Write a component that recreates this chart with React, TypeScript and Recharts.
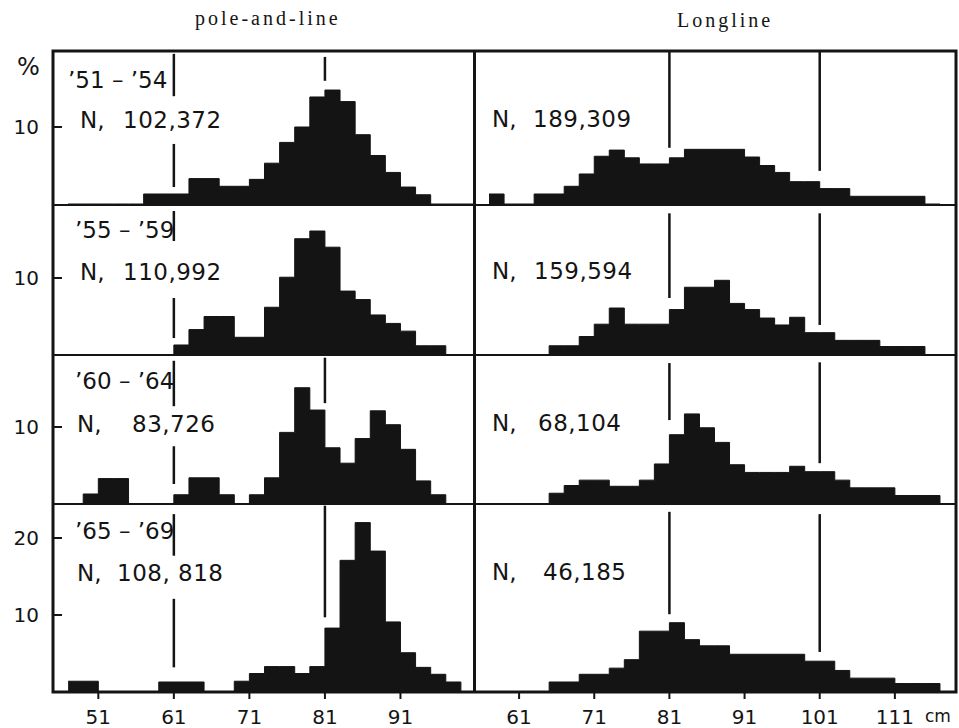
import { ComposedChart, Area, XAxis, YAxis, ReferenceLine } from 'recharts';

// bin lower edges (cm), 2 cm classes
const binsPole = [47, 49, 51, 53, 55, 57, 59, 61, 63, 65, 67, 69, 71, 73, 75, 77, 79, 81, 83, 85, 87, 89, 91, 93, 95, 97, 99];
const binsLong = [57, 59, 61, 63, 65, 67, 69, 71, 73, 75, 77, 79, 81, 83, 85, 87, 89, 91, 93, 95, 97, 99, 101, 103, 105, 107, 109, 111, 113, 115];

// pole-and-line, % per class
const pole5154 = [0, 0, 0, 0, 0, 1.3, 1.3, 1.3, 3.3, 3.3, 2.3, 2.3, 3.2, 5.3, 8.0, 10.0, 13.9, 14.8, 13.3, 9.0, 6.3, 4.1, 2.2, 1.2, 0, 0, 0];
const pole5559 = [0, 0, 0, 0, 0, 0, 0, 1.3, 3.3, 5.0, 5.0, 2.3, 2.3, 6.2, 10.1, 15.1, 16.1, 14.0, 8.3, 7.2, 5.2, 4.1, 3.1, 1.2, 1.2, 0, 0];
const pole6064 = [0, 1.3, 3.3, 3.3, 0, 0, 0, 1.2, 3.4, 3.4, 1.2, 0, 1.2, 3.4, 9.3, 15.1, 12.2, 7.3, 5.3, 8.5, 12.1, 10.3, 7.1, 3.0, 1.2, 0, 0];
const pole6569 = [1.4, 1.4, 0, 0, 0, 0, 1.3, 1.3, 1.3, 0, 0, 1.4, 2.4, 3.3, 3.3, 2.4, 3.3, 8.3, 17.1, 22.0, 18.3, 9.1, 5.1, 3.2, 2.3, 1.3, 0];

// longline, % per class
const long5154 = [1.3, 0, 0, 1.3, 1.3, 2.3, 3.9, 6.2, 7.0, 6.0, 5.2, 5.2, 6.0, 7.1, 7.1, 7.1, 7.1, 6.1, 5.0, 4.1, 2.9, 2.9, 2.0, 2.0, 1.0, 1.0, 1.0, 1.0, 1.0, 0];
const long5559 = [0, 0, 0, 0, 1.2, 1.2, 2.4, 4.0, 6.1, 4.0, 4.0, 4.0, 5.9, 8.8, 8.8, 9.7, 6.7, 5.9, 4.8, 3.9, 4.9, 2.9, 2.9, 1.9, 1.9, 1.9, 1.1, 1.1, 1.1, 0];
const long6064 = [0, 0, 0, 0, 1.4, 2.4, 3.1, 3.1, 2.3, 2.3, 3.1, 5.2, 9.0, 11.7, 9.9, 8.0, 5.1, 4.1, 4.1, 4.1, 4.9, 4.2, 4.2, 3.1, 2.1, 2.1, 2.1, 1.1, 1.1, 1.1];
const long6569 = [0, 0, 0, 0, 1.3, 1.3, 2.3, 2.3, 3.1, 4.2, 7.9, 7.9, 9.0, 6.8, 6.0, 6.0, 4.9, 4.9, 4.9, 4.9, 4.9, 4.0, 4.0, 2.8, 1.8, 1.8, 1.8, 1.1, 1.1, 1.1];

const periods = ['’51 – ’54', '’55 – ’59', '’60 – ’64', '’65 – ’69'];
const poleN = ['102,372', '110,992', '83,726', '108, 818'];
const longN = ['189,309', '159,594', '68,104', '46,185'];

const poleTicks = [51, 61, 71, 81, 91];
const longTicks = [61, 71, 81, 91, 101, 111];

// marker lines: x (cm), from % to %
const markPole = [
  [{ x: 61, a: 19.5, b: 14.0 }, { x: 61, a: 7.8, b: 2.2 }, { x: 81, a: 19.1, b: 16.0 }],
  [{ x: 61, a: 18.7, b: 14.8 }, { x: 61, a: 7.4, b: 2.2 }, { x: 81, a: 19.5, b: 17.9 }],
  [{ x: 61, a: 18.6, b: 12.7 }, { x: 61, a: 7.5, b: 2.6 }, { x: 81, a: 19.0, b: 13.1 }],
  [{ x: 61, a: 23.1, b: 17.7 }, { x: 61, a: 12.1, b: 3.2 }, { x: 81, a: 24.2, b: 9.7 }],
];
const markLong = [
  [{ x: 81, a: 19.8, b: 7.3 }, { x: 101, a: 19.8, b: 4.3 }],
  [{ x: 81, a: 18.4, b: 7.4 }, { x: 101, a: 18.4, b: 3.9 }],
  [{ x: 81, a: 18.3, b: 10.9 }, { x: 101, a: 18.4, b: 5.3 }],
  [{ x: 81, a: 23.4, b: 10.1 }, { x: 101, a: 23.1, b: 5.2 }],
];

const INK = '#141414';
const SANS = 'DejaVu Sans';
const PX_PER_PCT = 7.7;

const rows = [
  { top: 51, h: 153, yTicks: [10] },
  { top: 205, h: 150, yTicks: [10] },
  { top: 355, h: 149, yTicks: [10] },
  { top: 504, h: 188, yTicks: [10, 20] },
];

function toSteps(bins: number[], values: number[]) {
  const pts = bins.map((b, i) => ({ x: b, v: values[i] }));
  pts.push({ x: bins[bins.length - 1] + 2, v: 0 });
  return pts;
}

const CmTick = (props: any) => {
  const { x, y, payload } = props;
  return (
    <g>
      <text x={x} y={y} dy="0.71em" textAnchor="middle" fill={INK} fontSize={20} fontFamily={SANS}>
        {payload.value}
      </text>
      {payload.value === 111 && (
        <text x={x + 30} y={y} dy="0.71em" fill={INK} fontSize={17} fontFamily={SANS}>
          cm
        </text>
      )}
    </g>
  );
};

function Panel(props: {
  left: number;
  top: number;
  width: number;
  plotH: number;
  bins: number[];
  values: number[];
  domain: [number, number];
  marks: { x: number; a: number; b: number }[];
  yTicks?: number[];
  xTicks?: number[];
}) {
  const { left, top, width, plotH, bins, values, domain, marks, yTicks, xTicks } = props;
  const data = toSteps(bins, values);
  const axisH = xTicks ? 36 : 0;
  return (
    <div style={{ position: 'absolute', left, top }}>
      <ComposedChart width={width} height={plotH + axisH} data={data} margin={{ top: 0, right: 0, bottom: 0, left: 0 }}>
        <XAxis
          type="number"
          dataKey="x"
          domain={domain}
          allowDataOverflow
          hide={!xTicks}
          ticks={xTicks}
          interval={0}
          height={axisH}
          axisLine={false}
          tickSize={7}
          tickMargin={11}
          tickLine={{ stroke: INK, strokeWidth: 2 }}
          tick={<CmTick />}
        />
        <YAxis
          type="number"
          domain={[0, plotH / PX_PER_PCT]}
          allowDataOverflow
          hide={!yTicks}
          ticks={yTicks}
          interval={0}
          width={53}
          axisLine={false}
          tickSize={-9}
          tickMargin={23}
          tickLine={{ stroke: INK, strokeWidth: 2 }}
          tick={{ fill: INK, fontSize: 20, fontFamily: SANS }}
        />
        <Area
          type="stepAfter"
          dataKey="v"
          stroke={INK}
          strokeWidth={1}
          fill={INK}
          fillOpacity={1}
          dot={false}
          activeDot={false}
          isAnimationActive={false}
        />
        {marks.map((m, i) => (
          <ReferenceLine
            key={i}
            segment={[{ x: m.x, y: m.a }, { x: m.x, y: m.b }]}
            stroke={INK}
            strokeWidth={2.5}
          />
        ))}
      </ComposedChart>
    </div>
  );
}

const poleSeries = [pole5154, pole5559, pole6064, pole6569];
const longSeries = [long5154, long5559, long6064, long6569];

// label positions per row
const periodPos = [
  { x: 68, y: 88 },
  { x: 75, y: 238 },
  { x: 75, y: 389 },
  { x: 75, y: 539 },
];
const nPoleX = [80, 80, 77, 77];
const nPoleNumX = [123, 123, 132, 117];
const nLongNumX = [533, 534, 538, 543];
const nY = [128, 280, 432, 581];

export default function App() {
  return (
    <div style={{ position: 'absolute', left: 0, top: 0, width: 959, height: 728, background: '#fff', overflow: 'hidden' }}>
      {rows.map((r, i) => (
        <Panel
          key={'p' + i}
          left={0}
          top={r.top}
          width={476}
          plotH={r.h}
          bins={binsPole}
          values={poleSeries[i]}
          domain={[45, 101]}
          marks={markPole[i]}
          yTicks={r.yTicks}
          xTicks={i === 3 ? poleTicks : undefined}
        />
      ))}
      {rows.map((r, i) => (
        <Panel
          key={'l' + i}
          left={474}
          top={r.top}
          width={481}
          plotH={r.h}
          bins={binsLong}
          values={longSeries[i]}
          domain={[55, 119]}
          marks={markLong[i]}
          xTicks={i === 3 ? longTicks : undefined}
        />
      ))}
      <svg width={959} height={728} style={{ position: 'absolute', left: 0, top: 0, pointerEvents: 'none' }}>
        <g stroke={INK} fill="none">
          <rect x={53} y={51} width={903} height={641} strokeWidth={3} />
          <line x1={474.5} y1={51} x2={474.5} y2={692} strokeWidth={3} />
          <line x1={53} y1={205} x2={956} y2={205} strokeWidth={2} />
          <line x1={53} y1={355} x2={956} y2={355} strokeWidth={2} />
          <line x1={53} y1={504} x2={956} y2={504} strokeWidth={2} />
        </g>
        <text x={195} y={25} fontFamily="Liberation Serif" fontSize={20} letterSpacing={3} fill={INK}>
          pole-and-line
        </text>
        <text x={677} y={27} fontFamily="Liberation Serif" fontSize={20} letterSpacing={3} fill={INK}>
          Longline
        </text>
        <text x={17} y={75} fontFamily={SANS} fontSize={24} fill={INK}>
          %
        </text>
        {periods.map((p, i) => (
          <text key={'t' + i} x={periodPos[i].x} y={periodPos[i].y} fontFamily={SANS} fontSize={23} fill={INK}>
            {p}
          </text>
        ))}
        {poleN.map((n, i) => (
          <g key={'np' + i} fontFamily={SANS} fontSize={23} fill={INK}>
            <text x={nPoleX[i]} y={nY[i]}>N,</text>
            <text x={nPoleNumX[i]} y={nY[i]} letterSpacing={0.5}>{n}</text>
          </g>
        ))}
        {longN.map((n, i) => (
          <g key={'nl' + i} fontFamily={SANS} fontSize={23} fill={INK}>
            <text x={492} y={nY[i] - 1}>N,</text>
            <text x={nLongNumX[i]} y={nY[i] - 1} letterSpacing={0.5}>{n}</text>
          </g>
        ))}
      </svg>
    </div>
  );
}
